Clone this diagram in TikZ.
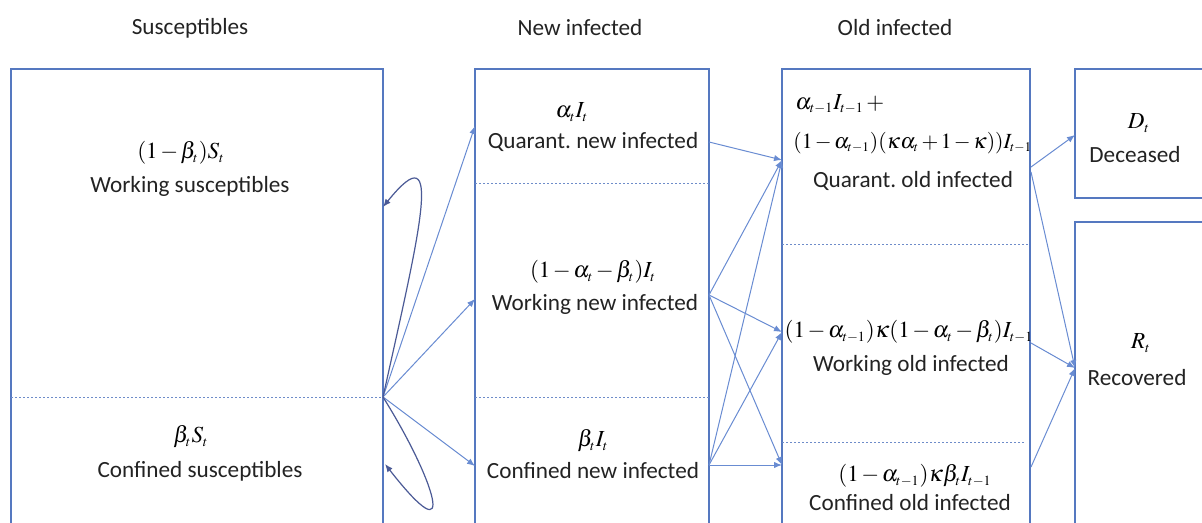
\documentclass[tikz,border=0pt]{standalone}
\usepackage{mathptmx}
\usepackage[no-math]{fontspec}
\newfontfamily\calibri{Carlito}
\usetikzlibrary{arrows.meta,fit}
\DeclareMathSizes{11.5}{11.5}{7}{5}
\DeclareMathSizes{10.8}{10.8}{6.6}{5}
\newcommand\tightmath{\medmuskip=2mu\relax\thickmuskip=3mu\relax}
\definecolor{boxblue}{RGB}{85,120,192}
\definecolor{arrblue}{RGB}{105,140,210}
\definecolor{loopblue}{RGB}{75,90,150}
\definecolor{txt}{RGB}{35,35,35}
\begin{document}
\begin{tikzpicture}[x=0.5pt,y=-0.5pt,
  box/.style={draw=boxblue,line width=0.8pt,inner sep=0pt},
  divider/.style={draw=boxblue!85,line width=0.5pt,dash pattern=on 1pt off 1pt},
  lbl/.style={font=\calibri\fontsize{11.6}{14}\selectfont\frenchspacing,text=txt,inner sep=0pt},
  mth/.style={font=\fontsize{11.5}{14}\selectfont\tightmath,text=black,inner sep=0pt},
  mthsmall/.style={font=\fontsize{10.8}{14}\selectfont\tightmath,text=black,inner sep=0pt},
  flow/.style={draw=arrblue,line width=0.5pt,-{Latex[length=4pt,width=3.2pt]}},
  loopflow/.style={draw=loopblue,line width=0.6pt,-{Latex[length=4pt,width=3.2pt]}}]

\clip (0,0) rectangle (1202,523);
\fill[white] (0,0) rectangle (1202,523);

% boxes
\node[box, fit={(11,69)(383,545)}] (S) {};
\node[box, fit={(475,69)(709,545)}] (N) {};
\node[box, fit={(782,69)(1030,545)}] (O) {};
\node[box, fit={(1075,69)(1215,198)}] (D) {};
\node[box, fit={(1075,222)(1215,545)}] (R) {};

% dividers
\draw[divider] (11,397) -- (383,397);
\draw[divider] (475,184) -- (709,184);
\draw[divider] (475,397) -- (709,397);
\draw[divider] (782,245) -- (1030,245);
\draw[divider] (782,442) -- (1024,442);

% titles
\node[lbl] (tS) at (190,28) {Susceptibles};
\node[lbl] (tN) at (580,28) {New infected};
\node[lbl] (tO) at (895,28) {Old infected};

% susceptibles
\node[mth] (ws) at (181,153) {$(1-\beta_t)S_t$};
\node[lbl] (wsl) at (190,186) {Working susceptibles};
\node[mth] (cs) at (191,437) {$\beta_t S_t$};
\node[lbl] (csl) at (200,471) {Confined susceptibles};

% new infected
\node[mth] (qn) at (572,112) {$\alpha_t I_t$};
\node[lbl] (qnl) at (593,142) {Quarant. new infected};
\node[mth] (wn) at (593,272) {$(1-\alpha_t-\beta_t)I_t$};
\node[lbl] (wnl) at (595,304) {Working new infected};
\node[mth] (cn) at (593,441) {$\beta_t I_t$};
\node[lbl] (cnl) at (593,471) {Confined new infected};

% old infected
\node[mth,anchor=west] (qo1) at (795,104) {$\alpha_{t-1}I_{t-1} +{}$};
\node[mthsmall,anchor=west] (qo2) at (793,143) {$(1-\alpha_{t-1})(\kappa\alpha_t+1-\kappa))I_{t-1}$};
\node[lbl] (qol) at (913,181) {Quarant. old infected};
\node[mth] (wo) at (909,332) {$(1-\alpha_{t-1})\kappa(1-\alpha_t-\beta_t)I_{t-1}$};
\node[lbl] (wol) at (911,365) {Working old infected};
\node[mth] (co) at (915,476) {$(1-\alpha_{t-1})\kappa\beta_t I_{t-1}$};
\node[lbl] (col) at (910,503) {Confined old infected};

% deceased / recovered
\node[mth] (dm) at (1139,123) {$D_t$};
\node[lbl] (dl) at (1135,155) {Deceased};
\node[mth] (rm) at (1141,343) {$R_t$};
\node[lbl] (rl) at (1137,378) {Recovered};

% ports
\coordinate (sj) at (383,397);
\coordinate (sl1) at (383,207);
\coordinate (sl2) at (385,464);
\coordinate (n1) at (475,126);
\coordinate (n2) at (475,299);
\coordinate (n3) at (475,466);
\coordinate (m1) at (709,142);
\coordinate (m2) at (709,295);
\coordinate (m3) at (709,465);
\coordinate (o1) at (782,160);
\coordinate (o2) at (782,332);
\coordinate (o3) at (782,465);
\coordinate (r1a) at (1031,167);
\coordinate (r1b) at (1031,172);
\coordinate (r2) at (1031,343);
\coordinate (r3) at (1031,467);
\coordinate (dd) at (1075,135);
\coordinate (rr) at (1075,368);

% flows from susceptibles
\draw[flow] (sj) -- (n1);
\draw[flow] (sj) -- (n2);
\draw[flow] (sj) -- (n3);
\draw[loopflow] (sj) .. controls (420,230) and (445,130) .. (sl1);
\draw[loopflow] (sj) .. controls (435,480) and (460,560) .. (sl2);

% new -> old
\draw[flow] (m1) -- (o1);
\draw[flow] (m2) -- (o1);
\draw[flow] (m2) -- (o2);
\draw[flow] (m2) -- (o3);
\draw[flow] (m3) -- (o1);
\draw[flow] (m3) -- (o2);
\draw[flow] (m3) -- (o3);

% old -> deceased / recovered
\draw[flow] (r1a) -- (dd);
\draw[flow] (r1b) -- (rr);
\draw[flow] (r2) -- (rr);
\draw[flow] (r3) -- (rr);
\end{tikzpicture}
\end{document}
